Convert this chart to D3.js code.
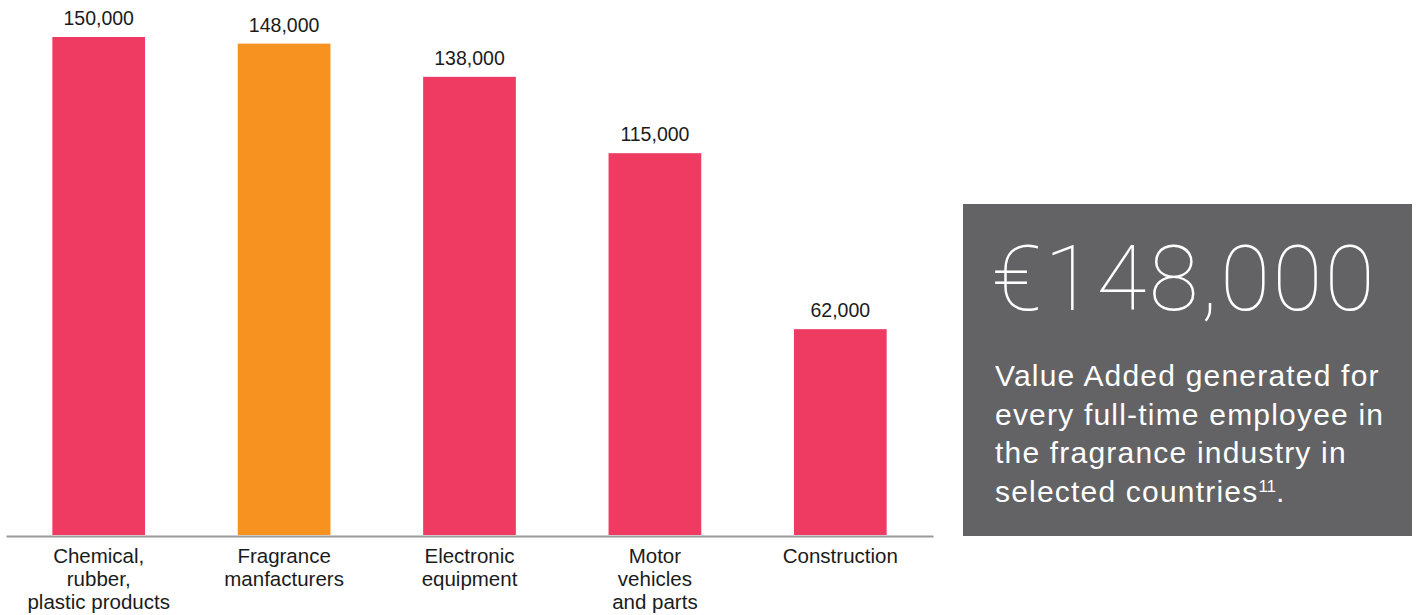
<!DOCTYPE html>
<html>
<head>
<meta charset="utf-8">
<script src="https://cdn.jsdelivr.net/npm/d3@7/dist/d3.min.js"></script>
<style>
  html, body { margin: 0; padding: 0; background: #ffffff; }
  svg { display: block; }
</style>
</head>
<body>
<svg id="chart" width="1416" height="615"></svg>
<script>
// Value added per full-time employee, by industry (EUR)
const categories = [
  "Chemical,\nrubber,\nplastic products",
  "Fragrance\nmanfacturers",
  "Electronic\nequipment",
  "Motor\nvehicles\nand parts",
  "Construction"
];
const values = [150000, 148000, 138000, 115000, 62000];
const highlighted = [false, true, false, false, false];

// Callout panel text
const calloutValue = 148000;
const calloutLines = [
  "Value Added generated for",
  "every full-time employee in",
  "the fragrance industry in",
  "selected countries"
];
const calloutNote = "11";

const svg = d3.select("#chart");

const baseY = 535;
const x = d3.scaleBand()
  .domain(categories)
  .range([6, 933])
  .paddingInner(0.5)
  .paddingOuter(0.25);

const y = d3.scaleLinear()
  .domain([0, 150000])
  .range([baseY, 37]);

const pink = "#ef3a62";
const orange = "#f7911f";
const textColor = "#1b1b1b";
const labelFont = "'Liberation Sans', Arial, Helvetica, sans-serif";

const data = categories.map((c, i) => ({ c, v: values[i], hi: highlighted[i] }));

// Bars
svg.append("g").selectAll("rect")
  .data(data)
  .join("rect")
  .attr("x", d => x(d.c))
  .attr("width", x.bandwidth())
  .attr("y", d => y(d.v))
  .attr("height", d => baseY - y(d.v))
  .attr("fill", d => d.hi ? orange : pink);

// Value labels above bars
const fmt = d3.format(",");
svg.append("g").selectAll("text")
  .data(data)
  .join("text")
  .attr("x", d => x(d.c) + x.bandwidth() / 2)
  .attr("y", d => y(d.v) - 12)
  .attr("text-anchor", "middle")
  .attr("font-family", labelFont)
  .attr("font-size", 19.5)
  .attr("fill", textColor)
  .text(d => fmt(d.v));

// Baseline axis
const xAxis = d3.axisBottom(x).tickSize(0).tickFormat("");
const axisG = svg.append("g")
  .attr("transform", `translate(0,${baseY + 1})`)
  .call(xAxis);
axisG.select(".domain")
  .attr("stroke", "#9a9a9a")
  .attr("stroke-width", 2);

// Category labels (multi-line)
const catG = svg.append("g");
data.forEach(d => {
  const lines = d.c.split("\n");
  const cx = x(d.c) + x.bandwidth() / 2;
  const t = catG.append("text")
    .attr("x", cx)
    .attr("y", 563)
    .attr("text-anchor", "middle")
    .attr("font-family", labelFont)
    .attr("font-size", 20.5)
    .attr("fill", textColor);
  lines.forEach((ln, i) => {
    t.append("tspan")
      .attr("x", cx)
      .attr("dy", i === 0 ? 0 : 23)
      .text(ln);
  });
});

// Callout panel
const panel = svg.append("g");
panel.append("rect")
  .attr("x", 963)
  .attr("y", 204)
  .attr("width", 449)
  .attr("height", 332)
  .attr("fill", "#636365");

panel.append("text")
  .attr("x", 992)
  .attr("y", 310)
  .attr("font-family", "Roboto, 'Open Sans', sans-serif")
  .attr("font-weight", 100)
  .attr("font-size", 91)
  .attr("letter-spacing", 2.4)
  .attr("fill", "#ffffff")
  .text("€" + fmt(calloutValue));

const body = panel.append("text")
  .attr("x", 995)
  .attr("y", 386)
  .attr("font-family", labelFont)
  .attr("font-size", 30)
  .attr("letter-spacing", 1.2)
  .attr("fill", "#ffffff");
calloutLines.forEach((ln, i) => {
  body.append("tspan")
    .attr("x", 995)
    .attr("dy", i === 0 ? 0 : 38.5)
    .text(ln);
});
body.append("tspan")
  .attr("font-size", 17)
  .attr("dy", -10)
  .attr("letter-spacing", 0)
  .text(calloutNote);
body.append("tspan")
  .attr("dy", 10)
  .text(".");
</script>
</body>
</html>
